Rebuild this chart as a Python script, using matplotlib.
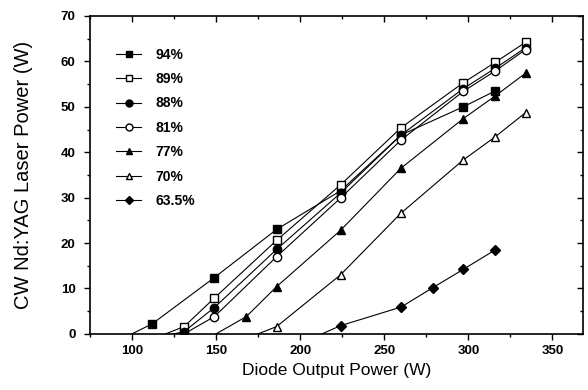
import matplotlib
matplotlib.use("Agg")
import matplotlib.pyplot as plt
from matplotlib.ticker import MultipleLocator

plt.rcParams["font.family"] = ["Liberation Sans", "DejaVu Sans"]

# diode output power (W) vs CW Nd:YAG laser power (W), per output coupler reflectivity
labels = ["94%", "89%", "88%", "81%", "77%", "70%", "63.5%"]
markers = ["s", "s", "o", "o", "^", "^", "D"]
filled = [True, False, True, False, True, False, True]

x94 = [100, 112, 149, 186, 224, 260, 297, 316]
y94 = [0, 2.2, 12.4, 23.0, 31.5, 43.8, 50.0, 53.5]

x89 = [120, 131, 149, 186, 224, 260, 297, 316, 334]
y89 = [0, 1.6, 7.9, 20.6, 32.8, 45.4, 55.3, 59.8, 64.2]

x88 = [125, 131, 149, 186, 224, 260, 297, 316, 334]
y88 = [0, 0.5, 5.8, 18.6, 31.0, 43.8, 54.0, 58.5, 63.0]

x81 = [131, 149, 186, 224, 260, 297, 316, 334]
y81 = [0, 3.8, 17.0, 29.9, 42.7, 53.4, 57.9, 62.6]

x77 = [150, 168, 186, 224, 260, 297, 316, 334]
y77 = [0, 3.8, 10.4, 22.8, 36.5, 47.4, 52.4, 57.4]

x70 = [175, 186, 224, 260, 297, 316, 334]
y70 = [0, 1.6, 13.0, 26.6, 38.3, 43.4, 48.7]

x635 = [213, 224, 260, 279, 297, 316]
y635 = [0, 1.8, 5.9, 10.2, 14.2, 18.5]

xs = [x94, x89, x88, x81, x77, x70, x635]
ys = [y94, y89, y88, y81, y77, y70, y635]

fig = plt.figure(figsize=(5.88, 3.9), dpi=100)
ax = fig.add_axes([0.153, 0.144, 0.838, 0.815])

for x, y, lab, m, f in zip(xs, ys, labels, markers, filled):
    ms = 6 if m != "D" else 5.5
    fc = "black" if f else "white"
    # first point sits on the axis without a marker (threshold)
    ax.plot(x, y, "-", color="black", lw=0.8)
    ax.plot(x[1:], y[1:], linestyle="none", marker=m, markersize=ms,
            markerfacecolor=fc, markeredgecolor="black", markeredgewidth=1.0)
    ax.plot([], [], "-", color="black", lw=0.8, marker=m, markersize=ms - 1,
            markerfacecolor=fc, markeredgecolor="black", markeredgewidth=1.0,
            label=lab)

ax.set_xlim(75, 368)
ax.set_ylim(0, 70)
ax.xaxis.set_major_locator(MultipleLocator(50))
ax.xaxis.set_minor_locator(MultipleLocator(25))
ax.yaxis.set_major_locator(MultipleLocator(10))
ax.yaxis.set_minor_locator(MultipleLocator(5))
ax.tick_params(which="both", top=True, right=True, width=1.0, direction="out")
ax.tick_params(which="major", length=4.5)
ax.tick_params(which="minor", length=2.5)
ax.tick_params(axis="y", pad=6)
# top/right ticks point inward
for t in ax.xaxis.get_major_ticks() + ax.xaxis.get_minor_ticks():
    t.tick2line.set_marker(3)
for t in ax.yaxis.get_major_ticks() + ax.yaxis.get_minor_ticks():
    t.tick2line.set_marker(0)
for lab in ax.get_xticklabels() + ax.get_yticklabels():
    lab.set_fontweight("bold")
    lab.set_fontsize(9.5)
for s in ax.spines.values():
    s.set_linewidth(1.2)

ax.set_xlabel("Diode Output Power (W)", fontsize=12.5, labelpad=4)
ax.set_ylabel("CW Nd:YAG Laser Power (W)", fontsize=14.5, labelpad=20)

leg = ax.legend(loc="upper left", bbox_to_anchor=(0.042, 0.918), frameon=False,
                fontsize=10, handlelength=1.8, handletextpad=1.0,
                labelspacing=0.75, borderaxespad=0)
for t in leg.get_texts():
    t.set_fontweight("bold")

fig.savefig("out.png", dpi=100)
